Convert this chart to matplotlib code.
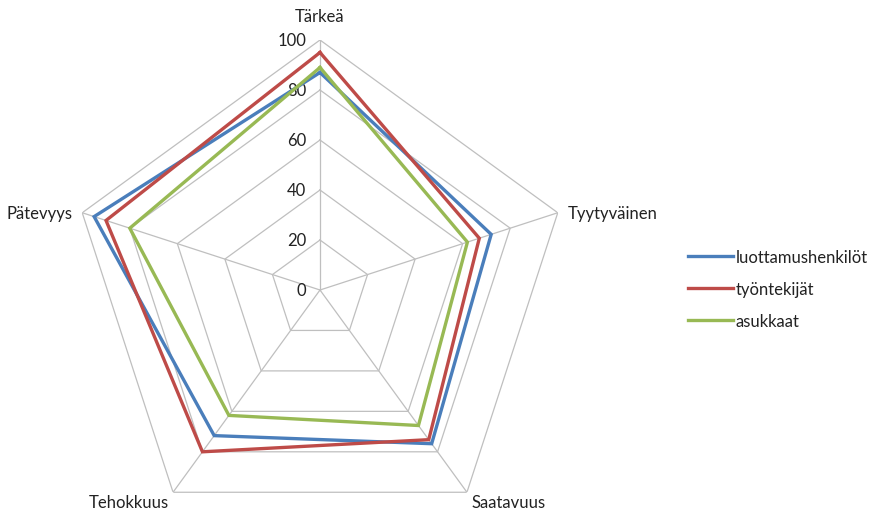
import matplotlib.pyplot as plt
import numpy as np

plt.rcParams['font.family'] = ['Lato', 'DejaVu Sans']

# kyselyn ulottuvuudet ja ryhmien keskiarvot (0-100)
categories = ['Tärkeä', 'Tyytyväinen', 'Saatavuus', 'Tehokkuus', 'Pätevyys']
luottamushenkilot = [87, 72, 76, 72, 95]
tyontekijat = [95, 67, 74, 80, 90]
asukkaat = [89, 62, 67, 62, 80]
series_names = ['luottamushenkilöt', 'työntekijät', 'asukkaat']
ticks = [0, 20, 40, 60, 80, 100]

colors = ['#4A7EBB', '#BE4B48', '#98B954']
grid_col = '#BFBFBF'

n = len(categories)
theta = np.arange(n) * 2 * np.pi / n
theta_c = np.append(theta, theta[0])

fig = plt.figure(figsize=(8.76, 5.1), dpi=100)
ax = fig.add_axes([70 / 876, -31 / 510, 500 / 876, 500 / 510], projection='polar')
ax.set_theta_offset(np.pi / 2)
ax.set_theta_direction(-1)
ax.set_ylim(0, 100)
ax.grid(False)
ax.spines['polar'].set_visible(False)
ax.set_xticks([])
ax.set_yticks([])
ax.patch.set_alpha(0)

# viisikulmainen ruudukko
for r in ticks[1:]:
    ax.plot(theta_c, [r] * (n + 1), color=grid_col, lw=0.9, zorder=1)
for t in theta:
    ax.plot([t, t], [0, 100], color=grid_col, lw=0.9, zorder=1)

# asteikon numerot
for r in ticks:
    ax.annotate(str(r), xy=(0, r), xytext=(-14, 0), textcoords='offset pixels',
                ha='right', va='center', fontsize=12, color='#222222')

# akselien nimet
label_pos = [((0, 24), 'center', 'center'),
             ((10, 0), 'left', 'center'),
             ((5, -10), 'left', 'center'),
             ((-4, -10), 'right', 'center'),
             ((-10, 0), 'right', 'center')]
for t, name, (off, ha, va) in zip(theta, categories, label_pos):
    ax.annotate(name, xy=(t, 100), xytext=off, textcoords='offset pixels',
                ha=ha, va=va, fontsize=12, color='#222222')

for vals, name, c in zip([luottamushenkilot, tyontekijat, asukkaat], series_names, colors):
    ax.plot(theta_c, vals + vals[:1], color=c, lw=2.4, label=name, zorder=3,
            solid_joinstyle='miter')

leg = fig.legend(loc='center left', bbox_to_anchor=(688 / 876, 1 - 290 / 510),
                 frameon=False, fontsize=12, handlelength=2.7, handletextpad=0.15,
                 labelspacing=0.95, borderaxespad=0, borderpad=0)
for txt in leg.get_texts():
    txt.set_color('#222222')

fig.savefig('out.png', dpi=100)
